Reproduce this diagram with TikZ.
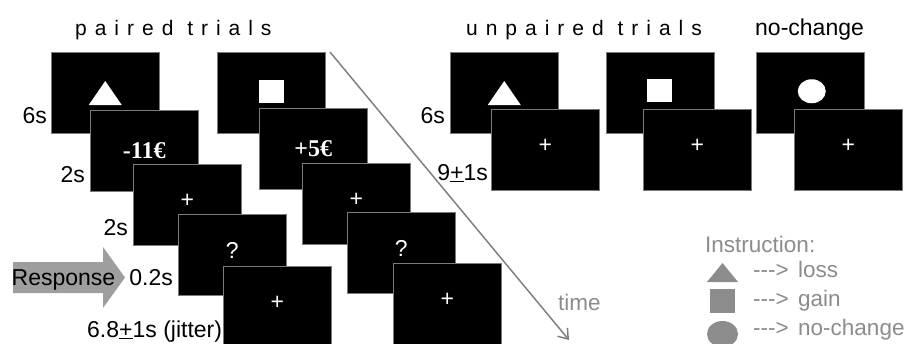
\documentclass[tikz,border=0pt]{standalone}
\usepackage{fontspec}
\setmainfont{Liberation Sans}[Ligatures=TeXOff]
\newfontfamily\titlefont{Liberation Sans}[LetterSpace=38,Ligatures=TeXOff]
\newfontfamily\eurofont{Liberation Serif}
\usetikzlibrary{calc,arrows.meta}
\definecolor{legendgray}{HTML}{8C8C8C}
\definecolor{boxline}{HTML}{7A7A7A}
\definecolor{arrowfill}{HTML}{9E9E9E}
\definecolor{timegray}{HTML}{808080}
\tikzset{
  scr/.style={draw=boxline, line width=0.9pt, fill=black, minimum width=108.5pt,
    minimum height=81.5pt, inner sep=0pt, outer sep=0pt, anchor=north west},
  lbl/.style={font=\fontsize{23}{27}\selectfont, inner sep=0pt, anchor=base east},
  lblw/.style={font=\fontsize{23}{27}\selectfont, inner sep=0pt, anchor=base west},
  inbox/.style={text=white, font=\fontsize{23}{27}\selectfont, inner sep=0pt, yshift=4pt},
  money/.style={text=white, font=\eurofont\bfseries\fontsize{24}{28}\selectfont, inner sep=0pt},
  ttl/.style={font=\titlefont\fontsize{21}{25}\selectfont, inner sep=0pt, anchor=base west},
  leg/.style={text=legendgray, font=\fontsize{22.5}{26}\selectfont, inner sep=0pt, anchor=base west},
  symb/.style={fill=white},
  legsymb/.style={fill=legendgray},
  timeline/.style={draw=timegray, line width=1.5pt},
}
\begin{document}
\begin{tikzpicture}[x=1pt, y=-1pt]
\useasboundingbox (0,0) rectangle (907,343);
\clip (0,0) rectangle (907,343);

% titles
\node[ttl] (tpaired) at (75,35) {paired trials};
\node[ttl] (tunpaired) at (466,35) {unpaired trials};
\node[lblw] (tnochange) at (755,35) {no-change};

% ---------- paired trials, left stack (loss) ----------
\node[scr] (pa1) at (51,52) {};
\fill[symb] ($(pa1.center)+(-16.5,12.25)$) -- ($(pa1.center)+(16.5,12.25)$) -- ($(pa1.center)+(0,-11.75)$) -- cycle;
\node[scr] (pa2) at (90,110) {};
\node[money] (pa2t) at (pa2.center) {-11€};
\node[scr] (pa3) at (133,164) {};
\node[inbox] (pa3t) at (pa3.center) {+};
\node[scr] (pa4) at (178,214) {};
\node[inbox] (pa4t) at (pa4.center) {?};
\node[scr] (pa5) at (223,266) {};
\node[inbox] (pa5t) at (pa5.center) {+};

% ---------- paired trials, right stack (gain) ----------
\node[scr] (pb1) at (217,52) {};
\fill[symb] ($(pb1.center)+(-12.5,-13)$) rectangle ($(pb1.center)+(12.5,10)$);
\node[scr] (pb2) at (259,108) {};
\node[money] (pb2t) at (pb2.center) {+5€};
\node[scr] (pb3) at (302,163) {};
\node[inbox] (pb3t) at (pb3.center) {+};
\node[scr] (pb4) at (347,212) {};
\node[inbox] (pb4t) at (pb4.center) {?};
\node[scr] (pb5) at (393,263) {};
\node[inbox] (pb5t) at (pb5.center) {+};

% ---------- unpaired trials ----------
\node[scr] (ua1) at (450,52) {};
\fill[symb] ($(ua1.center)+(-16.5,12.25)$) -- ($(ua1.center)+(16.5,12.25)$) -- ($(ua1.center)+(0,-11.75)$) -- cycle;
\node[scr] (ua2) at (491,109) {};
\node[inbox] (ua2t) at (ua2.center) {+};

\node[scr] (ub1) at (606,52) {};
\fill[symb] ($(ub1.center)+(-13,-14)$) rectangle ($(ub1.center)+(12,9.5)$);
\node[scr] (ub2) at (643,109) {};
\node[inbox] (ub2t) at (ub2.center) {+};

\node[scr] (uc1) at (756,52) {};
\fill[symb] ($(uc1.center)+(1.5,-1.5)$) ellipse [x radius=14, y radius=12];
\node[scr] (uc2) at (794,109) {};
\node[inbox] (uc2t) at (uc2.center) {+};

% ---------- timing labels ----------
\node[lbl] (l6a) at (47,123) {6s};
\node[lbl] (l2a) at (85,182) {2s};
\node[lbl] (l2b) at (128,235) {2s};
\node[lbl] (l02) at (173,285) {0.2s};
\node[lblw] (ljit) at (87,337) {6.8\underline{+}1s (jitter)};
\node[lbl] (l6b) at (445,123) {6s};
\node[lbl] (l9) at (488,180) {9\underline{+}1s};

% ---------- response arrow ----------
\fill[arrowfill] (13,262) -- (103,262) -- (103,247) -- (125,277.5) -- (103,308) -- (103,293) -- (13,293) -- cycle;
\node[lblw] (resp) at (11.5,285) {Response};

% ---------- time arrow ----------
\coordinate (t0) at (330,52);
\coordinate (t1) at (569,340);
\draw[timeline, -{Straight Barb[length=9pt,width=13pt]}] (t0) -- (t1);
\node[leg] (time) at (558,310) {time};

% ---------- legend ----------
\node[leg] (instr) at (705,252) {Instruction:};
\fill[legsymb] (707,282) -- (738,282) -- (722.5,263) -- cycle;
\node[leg] (a1) at (753,277) {--->};
\node[leg] (loss) at (798,277) {loss};
\fill[legsymb] (710,289) rectangle (735,313);
\node[leg] (a2) at (753,306) {--->};
\node[leg] (gain) at (798,306) {gain};
\fill[legsymb] (722.5,334) ellipse [x radius=15.5, y radius=13];
\node[leg] (a3) at (753,335) {--->};
\node[leg] (noch) at (798,335) {no-change};
\end{tikzpicture}
\end{document}
